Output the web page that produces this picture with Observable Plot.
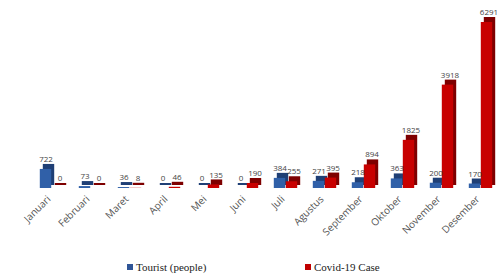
<!DOCTYPE html>
<html>
<head>
<meta charset="utf-8">
<script src="https://cdn.jsdelivr.net/npm/d3@7"></script>
<script src="https://cdn.jsdelivr.net/npm/@observablehq/plot@0.6"></script>
<style>
  html, body { margin: 0; padding: 0; background: #fff; }
  #chart svg { display: block; }
  .legend { height: 21px; position: relative; font-family: "Liberation Serif", "DejaVu Serif", serif; font-size: 11px; color: #222; }
  .legend span { position: absolute; top: 3px; white-space: nowrap; }
  .legend i { display: inline-block; width: 6px; height: 6px; margin-right: 3px; vertical-align: 1px; }
</style>
</head>
<body>
<div id="chart"></div>
<div class="legend">
  <span style="left:127px"><i style="background:#2f5597"></i>Tourist (people)</span>
  <span style="left:305px"><i style="background:#c00000"></i>Covid-19 Case</span>
</div>
<script>
const months = ["Januari","Februari","Maret","April","Mei","Juni","Juli","Agustus","September","Oktober","November","Desember"];
const tourist = [722, 73, 36, 0, 0, 0, 384, 271, 218, 363, 200, 170];
const covid = [0, 0, 8, 46, 135, 190, 255, 395, 894, 1825, 3918, 6291];

const data = months.map((m, i) => ({month: m, tourist: tourist[i], covid: covid[i]}));

const blue = "#3060a8", blueDark = "#1f3f75";
const red = "#c80000", redDark = "#7e0000";
const half = 19.8;

const chart = Plot.plot({
  width: 497,
  height: 258,
  marginTop: 22,
  marginBottom: 70,
  marginLeft: 0,
  marginRight: 0,
  x: {domain: months, range: [48 - half, 483 + half], padding: 0, label: null},
  y: {domain: [0, 6291], axis: null},
  marks: [
    Plot.barY(data, {x: "month", y: "tourist", fill: blueDark, insetLeft: half - 12, insetRight: half, insetTop: -2, dx: 3, dy: -3}),
    Plot.barY(data, {x: "month", y: "tourist", fill: blue, insetLeft: half - 12, insetRight: half}),
    Plot.barY(data, {x: "month", y: "covid", fill: redDark, insetLeft: half, insetRight: half - 12, insetTop: -2, dx: 3, dy: -3}),
    Plot.barY(data, {x: "month", y: "covid", fill: red, insetLeft: half, insetRight: half - 12}),
    Plot.text(data, {x: "month", y: "tourist", text: d => String(d.tourist), dx: -6, dy: -10, fontSize: 8, fill: "#444", fontFamily: "Open Sans, sans-serif"}),
    Plot.text(data, {x: "month", y: "covid", text: d => String(d.covid), dx: 8, dy: -10, fontSize: 8, fill: "#444", fontFamily: "Open Sans, sans-serif"}),
    Plot.axisX({tickSize: 0, tickRotate: -45, tickPadding: 9, dx: -3, fontSize: 10, fill: "#555", fontFamily: "Open Sans, sans-serif", label: null})
  ]
});
document.getElementById("chart").appendChild(chart);
</script>
</body>
</html>
